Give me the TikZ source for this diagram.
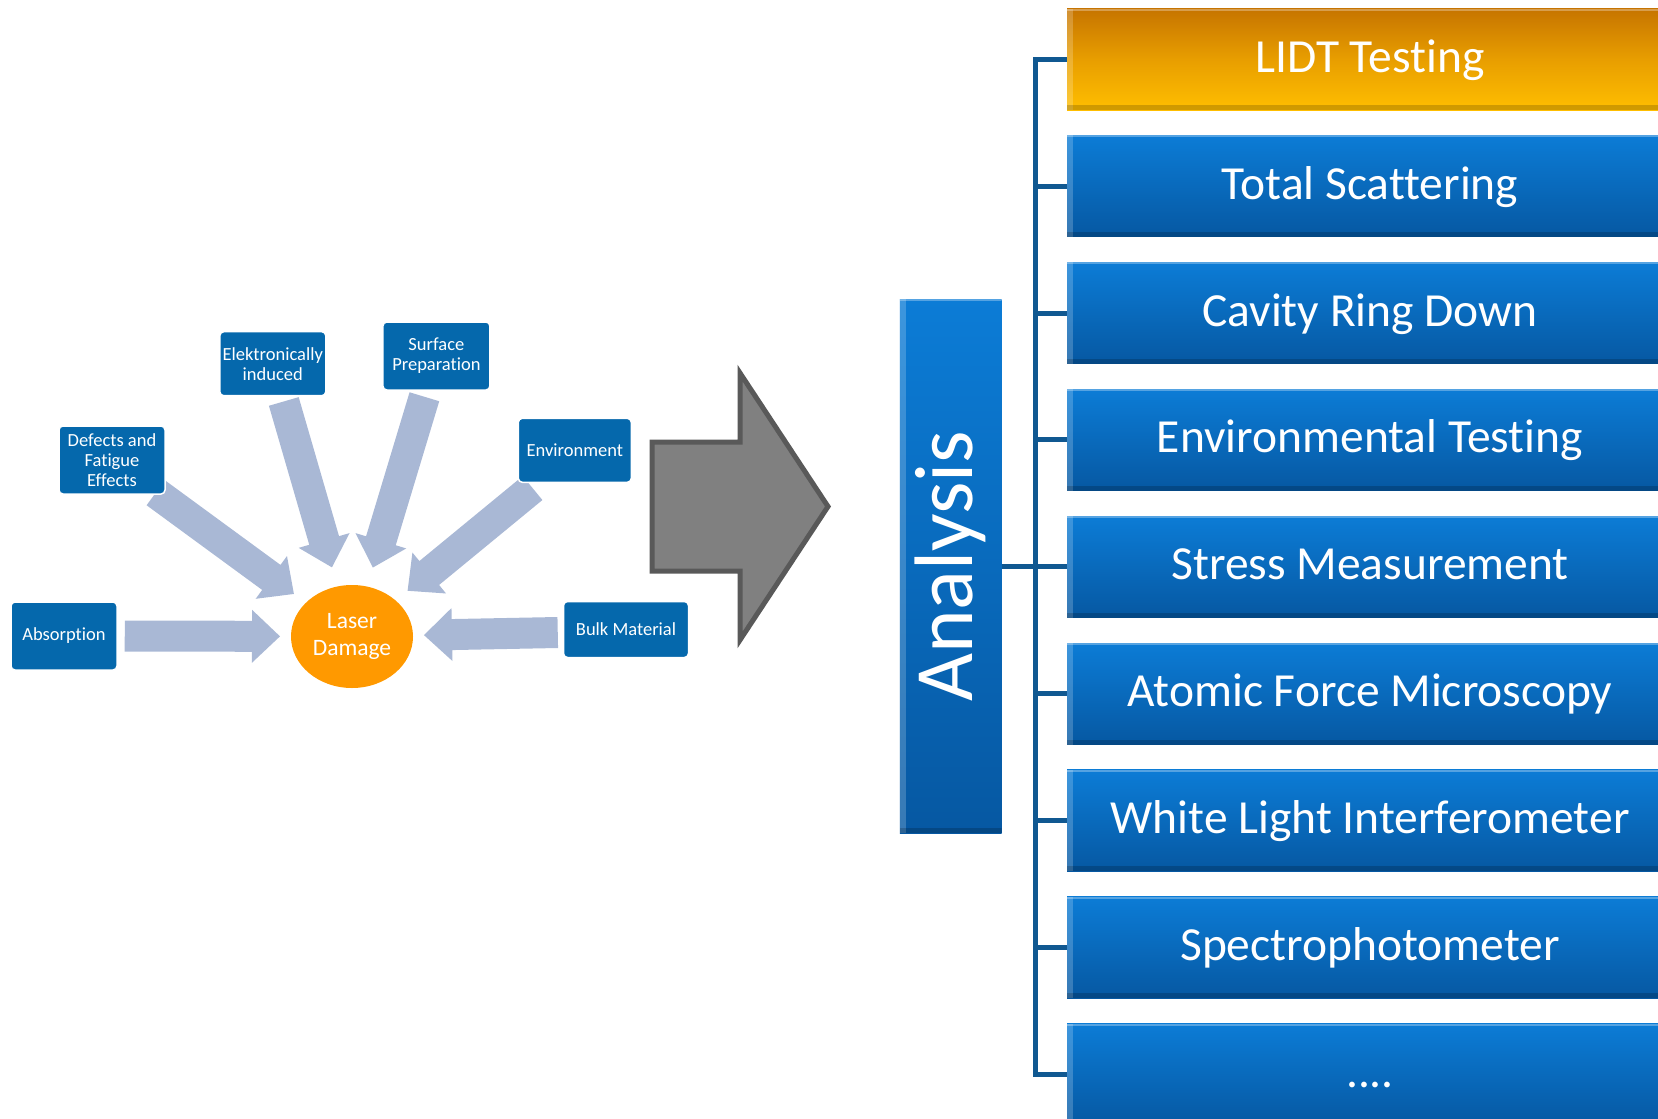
\documentclass[tikz,border=0pt]{standalone}
\usepackage{fontspec}
\setmainfont[Ligatures=NoCommon]{Carlito}
\usetikzlibrary{calc,shapes.geometric,backgrounds}

\definecolor{causeblue}{RGB}{5,104,172}
\definecolor{flowblue}{RGB}{169,184,213}
\definecolor{laserorange}{RGB}{255,153,0}
\definecolor{measTop}{RGB}{12,124,214}
\definecolor{measBot}{RGB}{6,88,162}
\definecolor{lidtTop}{RGB}{198,116,0}
\definecolor{lidtMid}{RGB}{232,158,0}
\definecolor{lidtBot}{RGB}{255,190,0}
\definecolor{spine}{RGB}{16,88,145}
\definecolor{arrowfill}{RGB}{128,128,128}
\definecolor{arrowline}{RGB}{89,89,89}

% thick block arrow from #1 towards the centre #2, stopping short of it
\newcommand\fatarrow[2]{%
  \coordinate (fa-t) at #1;
  \coordinate (fa-e) at ($(#2)!72pt!(fa-t)$);
  \coordinate (fa-b) at ($(fa-e)!28pt!(fa-t)$);
  \fill[flow] ($(fa-t)!15.5pt!90:(fa-e)$) -- ($(fa-b)!15.5pt!90:(fa-e)$)
    -- ($(fa-b)!26.5pt!90:(fa-e)$) -- (fa-e) -- ($(fa-b)!26.5pt!-90:(fa-e)$)
    -- ($(fa-b)!15.5pt!-90:(fa-e)$) -- ($(fa-t)!15.5pt!-90:(fa-e)$) -- cycle;
}

\begin{document}
\begin{tikzpicture}[x=1pt, y=-1pt,
    cause/.style={draw=white, line width=1.5pt, fill=causeblue, rounded corners=4pt,
                  text=white, align=center, inner sep=1pt,
                  font=\fontsize{18.5}{20}\selectfont},
    core/.style={ellipse, fill=laserorange, text=white, align=center, inner sep=0pt,
                 minimum width=122pt, minimum height=103pt,
                 font=\fontsize{23.5}{26.7}\selectfont},
    flow/.style={fill=flowblue},
    bevel/.style={path picture={
        \fill[white, opacity=0.2] (path picture bounding box.north west)
          rectangle ([xshift=6pt]path picture bounding box.south west);
        \fill[black, opacity=0.18] (path picture bounding box.south west)
          rectangle ([yshift=5pt]path picture bounding box.south east);
        \fill[white, opacity=0.3] (path picture bounding box.north west)
          rectangle ([yshift=-2pt]path picture bounding box.north east);}},
    measbox/.style={bevel, top color=measTop, bottom color=measBot, draw=none,
                    minimum width=606pt, minimum height=101.5pt, inner sep=0pt,
                    text height=34pt, text depth=8pt, text=white,
                    font=\fontsize{47.5}{50}\selectfont},
    lidtbox/.style={measbox, top color=lidtTop, bottom color=lidtBot, middle color=lidtMid},
    bar/.style={bevel, top color=measTop, bottom color=measBot,
                minimum width=101.7pt, minimum height=534pt, inner sep=0pt},
    bracket/.style={draw=spine, line width=5pt},
    bigarrow/.style={fill=arrowfill, draw=arrowline, line width=5pt, miter limit=20}
  ]
    \useasboundingbox (0,0) rectangle (1658,1119);
    \clip (0,0) rectangle (1658,1119);

    % causes around the damage spot
    \node[core] (ld) at (352,636.5) {Laser\\Damage};
    \node[cause, minimum width=106pt, minimum height=68pt] (abs)  at (64,636)    {Absorption};
    \node[cause, minimum width=106pt, minimum height=68pt] (def)  at (112,460)   {Defects and\\Fatigue\\Effects};
    \node[cause, minimum width=106pt, minimum height=64pt] (ele)  at (272.8,363.7) {Elektronically\\induced};
    \node[cause, minimum width=107pt, minimum height=68pt] (sur)  at (436.4,356) {Surface\\Preparation};
    \node[cause, minimum width=113pt, minimum height=64pt] (env)  at (574.8,450.3) {Environment};
    \node[cause, minimum width=125pt, minimum height=56pt] (bulk) at (626,629.5)  {Bulk Material};

    \begin{scope}[on background layer]
      \fatarrow{($(abs.east)+(7,0)$)}{ld.center}
      \fatarrow{($(def.south east)+(-10,-2)$)}{ld.center}
      \fatarrow{($(ele.south)+(11,5)$)}{ld.center}
      \fatarrow{($(sur.south)+(-12,6)$)}{ld.center}
      \fatarrow{($(env.south west)+(15,5)$)}{ld.center}
      \fatarrow{($(bulk.west)+(-5,3)$)}{ld.center}
    \end{scope}

    \draw[bigarrow] (652,442) -- (740,442) -- (740,373) -- (828,506.5)
      -- (740,640) -- (740,571) -- (652,571) -- cycle;

    % analysis bar and the list of methods
    \node[bar] (analysis) at (950.8,566.2) {};
    \node[rotate=90, text=white, font=\fontsize{83}{86}\selectfont] (analysis-txt)
      at (analysis.center) {Analysis};

    \node[lidtbox] (meas0) at (1370,59.25) {LIDT Testing};
    \foreach \lbl [count=\i] in {Total Scattering, Cavity Ring Down,
        Environmental Testing, Stress Measurement, Atomic Force Microscopy,
        White Light Interferometer, Spectrophotometer}
      \node[measbox] (meas\i) at (1370,59.25+126.9*\i) {\lbl};
    \node[measbox] (meas8) at (1370,1074.45) {....};

    \coordinate (spine) at (1035,0);
    \draw[bracket, line cap=rect] (meas0.west -| spine) -- (meas8.west -| spine);
    \foreach \i in {0,...,8}
      \draw[bracket] (meas\i.west -| spine) -- (meas\i.west);
    \draw[bracket] (analysis.east) -- (analysis.east -| spine);
\end{tikzpicture}
\end{document}
